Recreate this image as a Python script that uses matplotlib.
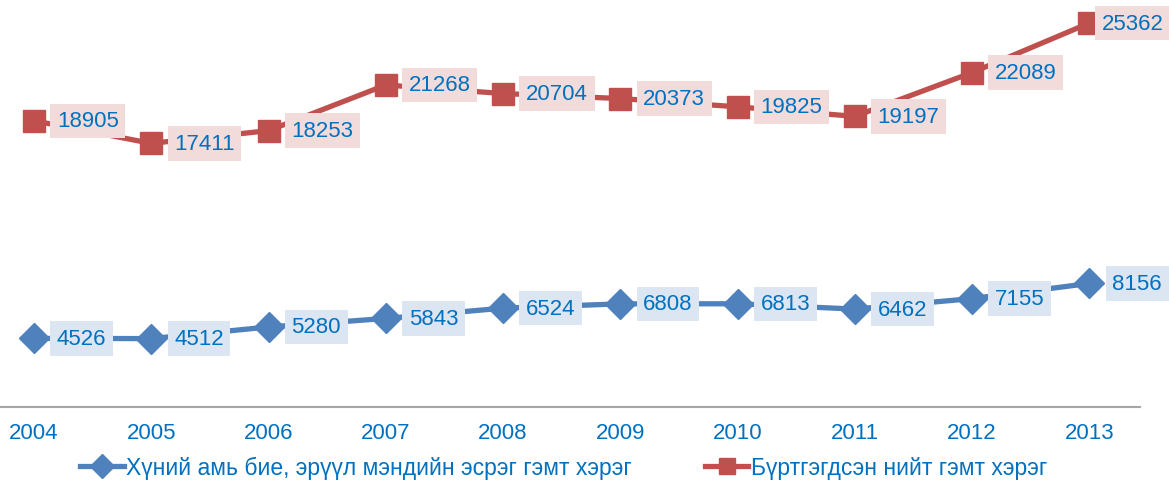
import matplotlib
matplotlib.use("Agg")
import matplotlib.pyplot as plt

# data
years = ["2004", "2005", "2006", "2007", "2008", "2009", "2010", "2011", "2012", "2013"]
health_crimes = [4526, 4512, 5280, 5843, 6524, 6808, 6813, 6462, 7155, 8156]
total_crimes = [18905, 17411, 18253, 21268, 20704, 20373, 19825, 19197, 22089, 25362]
health_label = "Хүний амь бие, эрүүл мэндийн эсрэг гэмт хэрэг"
total_label = "Бүртгэгдсэн нийт гэмт хэрэг"

plt.rcParams['font.family'] = ['Liberation Sans', 'DejaVu Sans']

blue = "#4f81bd"
red = "#c0504d"
text_blue = "#0070c0"

fig = plt.figure(figsize=(11.69, 4.81), dpi=100)
ax = fig.add_axes([0.0, 0.152, 0.975, 0.848])

x = list(range(len(years)))
ax.plot(x, health_crimes, color=blue, lw=3.8, marker='D', ms=15,
        mec=blue, mfc=blue, label=health_label, clip_on=False)
ax.plot(x, total_crimes, color=red, lw=3.8, marker='s', ms=16,
        mec=red, mfc=red, label=total_label, clip_on=False)

# data labels with tinted boxes, to the right of each marker
# (the last red one sits closer so it stays inside the picture)
for i, v in enumerate(health_crimes):
    ax.annotate(str(v), (x[i], v), xytext=(16.5, 0), textcoords='offset points',
                ha='left', va='center', fontsize=16, color=text_blue,
                bbox=dict(boxstyle='square,pad=0.3', fc="#dce6f2", ec='none'),
                annotation_clip=False)
for i, v in enumerate(total_crimes):
    dx = 9 if i == len(total_crimes) - 1 else 16.5
    ax.annotate(str(v), (x[i], v), xytext=(dx, 0), textcoords='offset points',
                ha='left', va='center', fontsize=16, color=text_blue,
                bbox=dict(boxstyle='square,pad=0.3', fc="#f2dcdb", ec='none'),
                annotation_clip=False)

ax.set_xlim(-0.29, 9.43)
ax.set_ylim(0, 26950)
ax.set_xticks(x)
ax.set_xticklabels(years, fontsize=16, color=text_blue)
ax.tick_params(axis='x', length=0, pad=11)
ax.set_yticks([])
for side in ['top', 'right', 'left']:
    ax.spines[side].set_visible(False)
ax.spines['bottom'].set_color("#a6a6a6")
ax.spines['bottom'].set_linewidth(1.5)

handles, labels = ax.get_legend_handles_labels()
leg = fig.legend(handles, labels, ncol=2, loc='center left',
                 bbox_to_anchor=(80 / 1169, 13 / 481), frameon=False,
                 fontsize=16.5, handlelength=1.9, handletextpad=0.1,
                 columnspacing=3.2, borderpad=0, borderaxespad=0)
for t in leg.get_texts():
    t.set_color(text_blue)
for h in leg.legend_handles:
    h.set_markersize(12)

fig.savefig("out.png", dpi=100)
